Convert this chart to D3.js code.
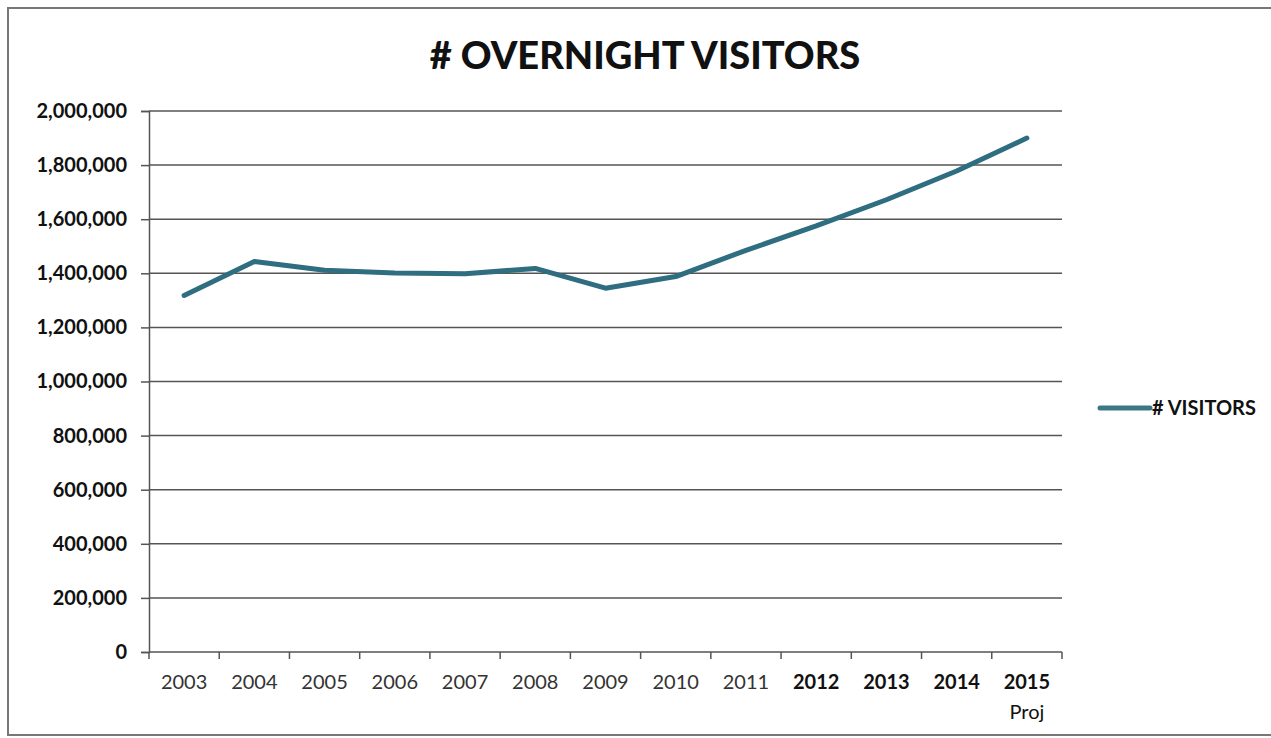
<!DOCTYPE html>
<html>
<head>
    <meta charset="utf-8">
    <title>overnight visitors</title>
    <script src="https://cdn.jsdelivr.net/npm/d3@7"></script>
    <style>
        html, body {
            margin: 0;
            padding: 0;
            background: #fff;
        }
        svg text {
            font-family: Lato, "Open Sans", sans-serif;
        }
    </style>
</head>
<body>
<svg class="main" width="1271" height="738"></svg>
<script>
    // years on the x axis
    var years = ['2003', '2004', '2005', '2006', '2007', '2008', '2009',
        '2010', '2011', '2012', '2013', '2014', '2015'];
    // # visitors
    var visitors = [1318000, 1444000, 1411000, 1401000, 1398000, 1418000, 1345000,
        1388000, 1485000, 1575000, 1672000, 1778000, 1900000];
    var yTicks = [0, 200000, 400000, 600000, 800000, 1000000, 1200000,
        1400000, 1600000, 1800000, 2000000];
    var seriesName = '# VISITORS';
    var title = '# OVERNIGHT VISITORS';

    var svg = d3.select('svg');
    var plotLeft = 149, plotRight = 1062, plotTop = 111, plotBottom = 652;
    var lineColor = '#2f6d80';

    // outer chart border
    svg.append('rect')
        .attr('x', 8).attr('y', 8)
        .attr('width', 1290).attr('height', 727)
        .attr('fill', 'none')
        .attr('stroke', '#777')
        .attr('stroke-width', 2);

    svg.append('text')
        .attr('x', 645).attr('y', 69)
        .attr('text-anchor', 'middle')
        .style('font-size', '38px')
        .style('font-weight', 900)
        .attr('fill', '#111')
        .text(title);

    var x = d3.scaleBand().domain(years).range([plotLeft, plotRight]);
    var y = d3.scaleLinear().domain([0, 2000000]).range([plotBottom, plotTop]);

    // gridlines
    svg.append('g').selectAll('line')
        .data(yTicks.slice(1))
        .enter().append('line')
        .attr('x1', plotLeft).attr('x2', plotRight)
        .attr('y1', function (d) { return y(d); })
        .attr('y2', function (d) { return y(d); })
        .attr('stroke', '#555')
        .attr('stroke-width', 1.5);

    // y axis
    var yAxis = svg.append('g')
        .attr('transform', 'translate(' + plotLeft + ',0)')
        .call(d3.axisLeft(y).tickValues(yTicks).tickSize(8).tickPadding(14)
            .tickFormat(d3.format(',')));
    yAxis.select('.domain').attr('stroke', '#555').attr('stroke-width', 1.5);
    yAxis.selectAll('.tick line').attr('stroke', '#555').attr('stroke-width', 1.5);
    yAxis.selectAll('text')
        .style('font-size', '20px')
        .style('font-weight', 'bold')
        .attr('fill', '#111');

    // x axis, ticks on band edges
    var xAxis = svg.append('g')
        .attr('transform', 'translate(0,' + plotBottom + ')');
    xAxis.append('line')
        .attr('x1', plotLeft).attr('x2', plotRight)
        .attr('stroke', '#555').attr('stroke-width', 1.5);
    xAxis.selectAll('line.tk')
        .data(years.concat(['end']))
        .enter().append('line')
        .attr('class', 'tk')
        .attr('x1', function (d, i) { return plotLeft + i * x.bandwidth(); })
        .attr('x2', function (d, i) { return plotLeft + i * x.bandwidth(); })
        .attr('y1', 0).attr('y2', 7)
        .attr('stroke', '#555').attr('stroke-width', 1.5);
    xAxis.selectAll('text.yr')
        .data(years)
        .enter().append('text')
        .attr('class', 'yr')
        .attr('x', function (d) { return x(d) + x.bandwidth() / 2; })
        .attr('y', 37)
        .attr('text-anchor', 'middle')
        .style('font-size', '20px')
        .style('font-weight', function (d) { return +d >= 2012 ? 'bold' : 'normal'; })
        .attr('fill', function (d) { return +d >= 2012 ? '#111' : '#333'; })
        .text(function (d) { return d; });
    xAxis.append('text')
        .attr('x', x('2015') + x.bandwidth() / 2)
        .attr('y', 67)
        .attr('text-anchor', 'middle')
        .style('font-size', '20px')
        .attr('fill', '#111')
        .text('Proj');

    // the series
    var line = d3.line()
        .x(function (d, i) { return x(years[i]) + x.bandwidth() / 2; })
        .y(function (d) { return y(d); });
    svg.append('path')
        .datum(visitors)
        .attr('d', line)
        .attr('fill', 'none')
        .attr('stroke', lineColor)
        .attr('stroke-width', 5)
        .attr('stroke-linejoin', 'round')
        .attr('stroke-linecap', 'round');

    // legend
    var lg = svg.append('g').attr('transform', 'translate(1100,408)');
    lg.append('line')
        .attr('x1', 0).attr('x2', 50)
        .attr('stroke', '#3a7886').attr('stroke-width', 5)
        .attr('stroke-linecap', 'round');
    lg.append('text')
        .attr('x', 52).attr('y', 7)
        .style('font-size', '20px')
        .style('font-weight', 'bold')
        .attr('fill', '#111')
        .text(seriesName);
</script>
</body>
</html>
